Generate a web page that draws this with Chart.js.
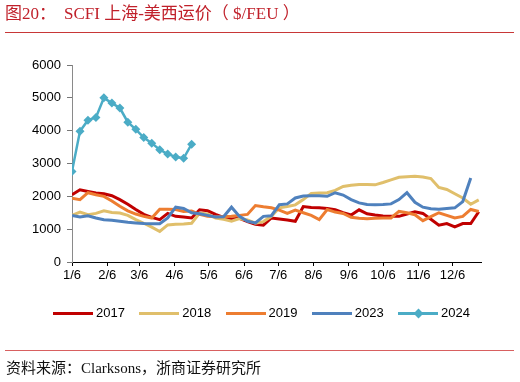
<!DOCTYPE html>
<html>
<head>
<meta charset="utf-8">
<script src="https://cdn.jsdelivr.net/npm/chart.js@4/dist/chart.umd.min.js"></script>
<style>
html,body{margin:0;padding:0;background:#fff;}
#wrap{position:relative;width:520px;height:382px;overflow:hidden;background:#fff;}
#c{position:absolute;left:0;top:0;}
.t{position:absolute;white-space:nowrap;}
.title{top:4px;font-size:17px;line-height:20px;font-family:"Liberation Serif","Noto Sans CJK SC",serif;color:#C0202A;}
.rule{position:absolute;left:5px;width:509px;height:1px;}
.src{left:6px;top:358px;font-size:15px;line-height:20px;font-family:"Liberation Serif","Noto Sans CJK SC",serif;color:#111;}
.lgtext{font-family:"Liberation Sans",Arial,sans-serif;font-size:13px;line-height:16px;color:#000;}
.sw{position:absolute;height:3px;width:40px;}
.dia{position:absolute;width:7px;height:7px;transform:rotate(45deg);}
</style>
</head>
<body>
<div id="wrap">
  <canvas id="c" width="520" height="382"></canvas>
  <div class="t title" style="left:5px">图20：</div>
  <div class="t title" style="left:64px">SCFI 上海-美西运价（ $/FEU ）</div>
  <div class="rule" style="top:32px;background:#C83737"></div>
  <div class="rule" style="top:350px;background:#D86060"></div>
  <div class="t src">资料来源：Clarksons，浙商证券研究所</div>
  <div id="legend"></div>
</div>
<script>
// ---- data ----
const TICK_LABELS = ['1/6','2/6','3/6','4/6','5/6','6/6','7/6','8/6','9/6','10/6','11/6','12/6'];
const TICK_DAYS   = [0,31,59,90,120,151,181,212,243,273,304,334]; // days after Jan 6
const SERIES_NAMES = ['2017','2018','2019','2023','2024'];
const y2017 = [2050,2200,2150,2100,2080,2020,1900,1760,1600,1450,1360,1290,1480,1390,1370,1340,1590,1560,1450,1360,1310,1330,1230,1150,1120,1340,1310,1280,1240,1690,1660,1650,1630,1590,1500,1430,1590,1470,1430,1400,1390,1390,1460,1530,1480,1300,1120,1170,1070,1170,1170,1530];
const y2018 = [1420,1520,1440,1480,1560,1510,1490,1420,1290,1180,1060,930,1130,1150,1160,1180,1490,1460,1340,1300,1240,1320,1280,1180,1230,1390,1650,1690,1740,1900,2090,2100,2110,2180,2300,2340,2360,2360,2350,2420,2500,2580,2600,2610,2590,2540,2270,2210,2080,1950,1760,1890];
const y2019 = [1940,1900,2110,2050,2000,1860,1700,1560,1460,1390,1340,1610,1610,1600,1540,1550,1450,1390,1380,1380,1390,1420,1450,1720,1680,1650,1580,1480,1580,1500,1420,1290,1600,1520,1480,1360,1330,1320,1330,1340,1340,1540,1500,1440,1260,1380,1500,1420,1340,1390,1600,1540];
const y2023 = [1420,1370,1410,1340,1290,1270,1240,1210,1190,1170,1165,1165,1340,1670,1630,1500,1470,1420,1370,1380,1670,1390,1240,1190,1390,1410,1745,1770,1950,2010,2020,2020,2000,2110,2040,1900,1800,1750,1740,1750,1770,1900,2110,1820,1670,1620,1610,1630,1650,1840,2560];
const y2024 = [2760,3980,4320,4400,5000,4840,4690,4260,4040,3790,3620,3420,3290,3200,3160,3590];
const WEEK_DAYS = 7;

// ---- style ----
const COLORS = ['#C00000','#E0BF6B','#ED7D31','#4F81BD','#4BACC6'];
const VALUES = [y2017,y2018,y2019,y2023,y2024];
const toPts = arr => arr.map((v,i)=>({x:i*WEEK_DAYS, y:v}));

const datasets = VALUES.map((vals,k)=>({
  label: SERIES_NAMES[k],
  data: toPts(vals),
  borderColor: COLORS[k],
  backgroundColor: COLORS[k],
  borderWidth: k===4 ? 2.5 : 3,
  pointRadius: k===4 ? 4.5 : 0,
  pointStyle: 'rectRot',
  pointBorderWidth: 0,
  tension: 0,
  order: 4-k
}));

const font = {family:'"Liberation Sans", Arial, sans-serif', size:13};

new Chart(document.getElementById('c'), {
  type:'line',
  data:{datasets},
  options:{
    responsive:false,
    animation:false,
    devicePixelRatio:1,
    layout:{padding:{left:0,right:39,top:65,bottom:100}},
    plugins:{legend:{display:false},tooltip:{enabled:false}},
    scales:{
      x:{
        type:'linear', min:0, max:359,
        afterBuildTicks: s => { s.ticks = TICK_DAYS.map(v=>({value:v})); },
        afterFit: s => { s.height = 20; },
        ticks:{autoSkip:false,maxRotation:0,minRotation:0,padding:2,color:'#000',font,
          callback:(v)=>{const i=TICK_DAYS.indexOf(v);return i>=0?TICK_LABELS[i]:'';}},
        grid:{drawOnChartArea:false,drawTicks:true,tickLength:4,tickColor:'#000',color:'#000'},
        border:{color:'#000',width:1}
      },
      y:{
        min:0,max:6000,
        afterFit: s => { s.width = 72; },
        ticks:{stepSize:1000,padding:6,color:'#000',font,callback:(v)=>String(v)},
        grid:{drawOnChartArea:false,drawTicks:true,tickLength:5,tickColor:'#777',color:'#777'},
        border:{color:'#8a8a8a',width:1}
      }
    }
  }
});

// ---- HTML legend ----
const lg = document.getElementById('legend');
SERIES_NAMES.forEach((name,k)=>{
  const left = 53 + 86.25*k;
  const sw = document.createElement('div');
  sw.className='sw'; sw.style.left=left+'px'; sw.style.top='312px'; sw.style.background=COLORS[k];
  lg.appendChild(sw);
  if(k===4){
    const d=document.createElement('div');
    d.className='dia'; d.style.left=(left+16.5)+'px'; d.style.top='310px'; d.style.background=COLORS[k];
    lg.appendChild(d);
  }
  const t=document.createElement('div');
  t.className='t lgtext'; t.style.left=(left+43)+'px'; t.style.top='305px'; t.textContent=name;
  lg.appendChild(t);
});
</script>
</body>
</html>
